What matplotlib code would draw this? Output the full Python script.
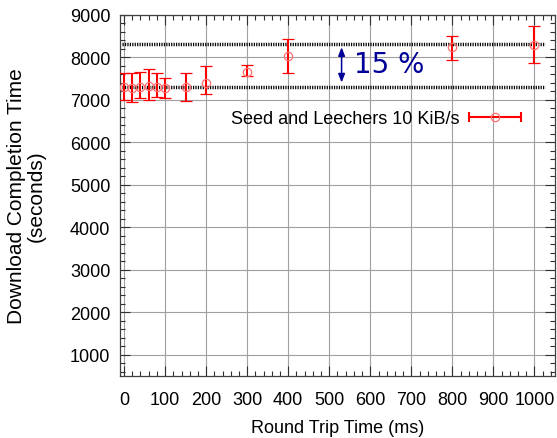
import matplotlib
matplotlib.use("Agg")
import matplotlib.pyplot as plt
from matplotlib.legend_handler import HandlerBase
from matplotlib.lines import Line2D
from matplotlib.ticker import MultipleLocator

# round trip time (ms) vs. download completion time (s)
rtt = [0, 20, 40, 60, 80, 100, 150, 200, 300, 400, 800, 1000]
mean_time = [7300, 7290, 7300, 7330, 7300, 7280, 7310, 7410, 7665, 8030, 8240, 8300]
low_time = [7000, 6960, 7040, 7000, 7075, 7040, 6975, 7130, 7565, 7640, 7950, 7860]
high_time = [7635, 7635, 7665, 7720, 7635, 7515, 7635, 7790, 7830, 8435, 8500, 8750]

# reference levels (no delay / 1 s delay) and the gap between them
ref_low = 7310
ref_high = 8310
ref_span = [-5, 1025]
arrow_x = 530
arrow_y = [7410, 8240]
gap_label = "15 %"
gap_label_pos = (560, 7840)

series_label = "Seed and Leechers 10 KiB/s"

RED = "#ff0000"
PINK = "#ff7070"
NAVY = "#000099"
SANS = "Liberation Sans"


class HBarHandler(HandlerBase):
    """gnuplot-style key: horizontal bar with end caps and the point symbol."""

    def create_artists(self, legend, orig_handle, xdescent, ydescent,
                       width, height, fontsize, trans):
        y = height / 2 - ydescent
        x0, x1 = -xdescent, width - xdescent
        bar = Line2D([x0, x1], [y, y], color=RED, lw=1.5)
        caps = Line2D([x0, x1], [y, y], ls="none", marker="|", ms=7.5,
                      mew=1.5, color=RED)
        dot = Line2D([(x0 + x1) / 2], [y], ls="none", marker="o", ms=6,
                     mfc="none", mec=PINK, mew=0.9)
        for a in (bar, caps, dot):
            a.set_transform(trans)
        return [bar, caps, dot]


fig = plt.figure(figsize=(5.57, 4.39), dpi=100)
ax = fig.add_axes([0.2154, 0.1412, 0.7810, 0.8224])

ax.grid(True, which="major", color="#a0a0a0", lw=0.8)
ax.set_axisbelow(True)

for lvl in (ref_low, ref_high):
    ax.plot(ref_span, [lvl, lvl], color="black", lw=2.5,
            ls=(0, (0.35, 0.35)), zorder=2)

yerr = [[m - lo for m, lo in zip(mean_time, low_time)],
        [hi - m for m, hi in zip(mean_time, high_time)]]
eb = ax.errorbar(rtt, mean_time, yerr=yerr, fmt="o", ms=6, mfc="none",
                 mec=PINK, mew=0.9, ecolor=RED, elinewidth=1.5,
                 capsize=4.3, capthick=1.5, zorder=3)

ax.annotate("", xy=(arrow_x, arrow_y[1]), xytext=(arrow_x, arrow_y[0]),
            arrowprops=dict(arrowstyle="<|-|>,head_length=0.5,head_width=0.2",
                            color=NAVY, lw=1.1, shrinkA=0, shrinkB=0))
ax.text(*gap_label_pos, gap_label, color=NAVY, fontsize=20,
        family="DejaVu Sans", ha="left", va="center")

ax.set_xlim(-10, 1050)
ax.set_ylim(500, 9000)
ax.xaxis.set_major_locator(MultipleLocator(100))
ax.xaxis.set_minor_locator(MultipleLocator(20))
ax.yaxis.set_major_locator(MultipleLocator(1000))
ax.yaxis.set_minor_locator(MultipleLocator(200))
ax.set_yticks(range(1000, 9001, 1000))

ax.tick_params(which="both", direction="in", top=True, right=True,
               color="#303030", width=0.8)
ax.tick_params(which="major", length=7)
ax.tick_params(which="minor", length=3.3)
ax.tick_params(axis="x", pad=11)
ax.tick_params(axis="y", pad=7)
for lbl in ax.get_xticklabels() + ax.get_yticklabels():
    lbl.set_fontfamily(SANS)
    lbl.set_fontsize(13)
for sp in ax.spines.values():
    sp.set_color("#404040")
    sp.set_linewidth(0.9)

ax.set_xlabel("Round Trip Time (ms)", family=SANS, fontsize=13, labelpad=8)
ax.set_ylabel("Download Completion Time\n(seconds)", family=SANS,
              fontsize=15, labelpad=17, linespacing=1.05)

ax.legend([eb], [series_label], handler_map={type(eb): HBarHandler()},
          loc="center right", bbox_to_anchor=(0.922, 0.712),
          frameon=False, markerfirst=False, borderaxespad=0, borderpad=0,
          handlelength=2.9, handletextpad=0.5,
          prop={"family": SANS, "size": 13})

fig.savefig("out.png", dpi=100)
